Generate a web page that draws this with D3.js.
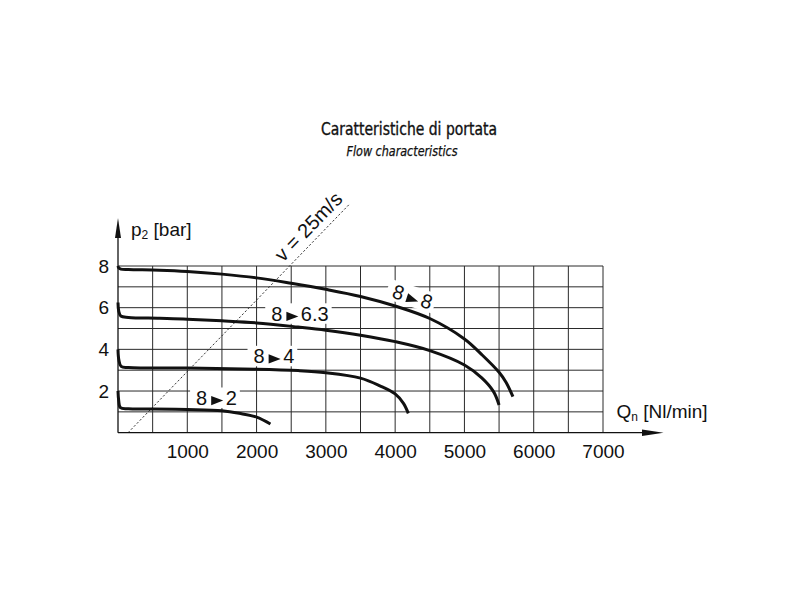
<!DOCTYPE html>
<html>
<head>
<meta charset="utf-8">
<title>Caratteristiche di portata</title>
<script src="https://cdn.jsdelivr.net/npm/d3@7"></script>
<style>
	body { margin: 0; background: #fff; }
	svg { display: block; }
	text { font-family: "Liberation Sans", Arial, Helvetica, sans-serif; fill: #111; }
</style>
</head>
<body>
<div id="chart"></div>
<script>
// flow curves, [Qn Nl/min, p2 bar], inlet 8 bar
var flow8to8 = [[0, 8.0], [12, 7.9], [40, 7.85], [150, 7.83], [600, 7.8], [1000, 7.74], [1500, 7.61], [2000, 7.43], [2500, 7.17], [3000, 6.88], [3500, 6.54], [4000, 6.08], [4500, 5.48], [5000, 4.5], [5250, 3.75], [5500, 2.9], [5600, 2.42], [5700, 1.73]];
var flow8to63 = [[0, 6.25], [10, 5.85], [40, 5.6], [150, 5.53], [600, 5.49], [1000, 5.45], [1500, 5.37], [2000, 5.27], [2600, 5.07], [3000, 4.92], [3500, 4.68], [4000, 4.37], [4500, 3.94], [5000, 3.25], [5250, 2.63], [5420, 1.97], [5500, 1.33]];
var flow8to4 = [[0, 4.0], [12, 3.5], [45, 3.18], [150, 3.13], [1000, 3.1], [2000, 3.05], [2600, 2.98], [3000, 2.88], [3500, 2.62], [3780, 2.25], [4000, 1.86], [4120, 1.41], [4190, 0.93]];
var flow8to2 = [[0, 2.0], [10, 1.55], [35, 1.2], [150, 1.15], [500, 1.14], [1000, 1.11], [1500, 1.05], [1750, 0.93], [2000, 0.75], [2200, 0.42]];

var flowCurves = [flow8to8, flow8to63, flow8to4, flow8to2];
var inletP = ["8", "8", "8", "8"];
var outletP = ["8", "6.3", "4", "2"];

// v = 25m/s reference line, [Qn, p2]
var velocityLine = [[145, 0], [3350, 11.0]];

var xTicks = [1000, 2000, 3000, 4000, 5000, 6000, 7000];
var yTicks = [2, 4, 6, 8];
var xGrid = [500, 1000, 1500, 2000, 2500, 3000, 3500, 4000, 4500, 5000, 5500, 6000, 6500, 7000];
var yGrid = [1, 2, 3, 4, 5, 6, 7, 8];

// where the "8 > x" tags sit (centre of baseline, in Qn / p2), and their tilt
var labelSpots = [
	{ q: 4220, p: 6.2, angle: 18 },
	{ q: 2626, p: 5.37, angle: 0 },
	{ q: 2250, p: 3.33, angle: 0 },
	{ q: 1421, p: 1.33, angle: 0 }
];

var W = 800, H = 600;
var fs = 19, lfs = 20;

var svg = d3.select("#chart").append("svg")
	.attr("width", W)
	.attr("height", H)
	.attr("viewBox", [0, 0, W, H].join(" "));

var x = d3.scaleLinear().domain([0, 7000]).range([118, 603]);
var y = d3.scaleLinear().domain([0, 8]).range([432.7, 266]);

// titles
svg.append("text")
	.attr("x", 409).attr("y", 135)
	.attr("text-anchor", "middle")
	.attr("font-size", 18)
	.attr("textLength", 176)
	.attr("lengthAdjust", "spacingAndGlyphs")
	.attr("stroke", "#111").attr("stroke-width", 0.35)
	.style("font-family", '"Liberation Sans Narrow", "DejaVu Sans Condensed", "Liberation Sans", sans-serif')
	.text("Caratteristiche di portata");

svg.append("text")
	.attr("x", 402).attr("y", 155.5)
	.attr("text-anchor", "middle")
	.attr("font-size", 13.5)
	.attr("font-style", "italic")
	.attr("textLength", 111)
	.attr("lengthAdjust", "spacingAndGlyphs")
	.attr("stroke", "#111").attr("stroke-width", 0.25)
	.style("font-family", '"Liberation Sans Narrow", "DejaVu Sans Condensed", "Liberation Sans", sans-serif')
	.text("Flow characteristics");

// grid
var grid = svg.append("g").attr("stroke", "#2a2a2a").attr("stroke-width", 1);
grid.selectAll("line.v").data(xGrid).enter().append("line")
	.attr("class", "v")
	.attr("x1", function(d) { return x(d); })
	.attr("x2", function(d) { return x(d); })
	.attr("y1", y(0))
	.attr("y2", y(8));
grid.selectAll("line.h").data(yGrid).enter().append("line")
	.attr("class", "h")
	.attr("x1", x(0))
	.attr("x2", x(7000))
	.attr("y1", function(d) { return y(d); })
	.attr("y2", function(d) { return y(d); });

// velocity line
var vx1 = x(velocityLine[0][0]), vy1 = y(velocityLine[0][1]);
var vx2 = x(velocityLine[1][0]), vy2 = y(velocityLine[1][1]);
svg.append("line")
	.attr("x1", vx1).attr("y1", vy1)
	.attr("x2", vx2).attr("y2", vy2)
	.attr("stroke", "#222")
	.attr("stroke-width", 0.9)
	.attr("stroke-dasharray", "2.2,2");

var vlen = Math.sqrt((vx2 - vx1) * (vx2 - vx1) + (vy2 - vy1) * (vy2 - vy1));
var ux = (vx2 - vx1) / vlen, uy = (vy2 - vy1) / vlen;
var vang = Math.atan2(vy2 - vy1, vx2 - vx1) * 180 / Math.PI;
var tpos = 0.72, toff = 7;
svg.append("text")
	.attr("transform", "translate(" + (vx1 + ux * vlen * tpos + uy * toff) + "," + (vy1 + uy * vlen * tpos - ux * toff) + ") rotate(" + vang + ")")
	.attr("font-size", lfs)
	.text("v = 25m/s");

// tags: white box knocks the grid out behind them
var labelLayer = svg.append("g");
labelSpots.forEach(function(spot, i) {
	var g = labelLayer.append("g")
		.attr("transform", "translate(" + x(spot.q) + "," + y(spot.p) + ") rotate(" + spot.angle + ")");
	var box = g.append("rect").attr("fill", "#fff");
	var a = g.append("text").attr("font-size", lfs).text(inletP[i]);
	var wa = a.node().getComputedTextLength();
	var tri = g.append("path").attr("d", "M0,-9L12,-4.4L0,0.2Z").attr("fill", "#111");
	var b = g.append("text").attr("font-size", lfs).text(outletP[i]);
	var wb = b.node().getComputedTextLength();
	var g1 = 4, g2 = 2.5;
	var total = wa + g1 + 12 + g2 + wb;
	var x0 = -total / 2;
	a.attr("x", x0);
	tri.attr("transform", "translate(" + (x0 + wa + g1) + ",0)");
	b.attr("x", x0 + wa + g1 + 12 + g2);
	box.attr("x", x0 - 6).attr("y", -17.5).attr("width", total + 9).attr("height", 20.5);
});

// curves
var line = d3.line()
	.x(function(d) { return x(d[0]); })
	.y(function(d) { return y(d[1]); })
	.curve(d3.curveCatmullRom.alpha(0.5));

svg.selectAll("path.flow").data(flowCurves).enter().append("path")
	.attr("class", "flow")
	.attr("d", line)
	.attr("fill", "none")
	.attr("stroke", "#111")
	.attr("stroke-width", 3)
	.attr("stroke-linecap", "butt");

// axes
var xAxis = d3.axisBottom(x).tickValues(xTicks).tickSize(0).tickPadding(11.5).tickFormat(d3.format("d"));
var gx = svg.append("g").attr("transform", "translate(0," + y(0) + ")").call(xAxis);
gx.select(".domain").remove();
gx.selectAll("text").attr("font-size", fs).attr("fill", "#111").style("font-family", '"Liberation Sans", Arial, sans-serif');

var yAxis = d3.axisLeft(y).tickValues(yTicks).tickSize(0).tickPadding(9).tickFormat(d3.format("d"));
var gy = svg.append("g").attr("transform", "translate(" + x(0) + ",0)").call(yAxis);
gy.select(".domain").remove();
gy.selectAll("text").attr("font-size", fs).attr("fill", "#111").style("font-family", '"Liberation Sans", Arial, sans-serif');

var axes = svg.append("g");
axes.append("line")
	.attr("x1", x(0)).attr("x2", x(7000) + 42)
	.attr("y1", y(0)).attr("y2", y(0))
	.attr("stroke", "#111").attr("stroke-width", 1.3);
axes.append("path")
	.attr("d", "M" + (x(7000) + 60.5) + "," + y(0) + "L" + (x(7000) + 39) + "," + (y(0) - 3.2) + "L" + (x(7000) + 39) + "," + (y(0) + 3.2) + "Z")
	.attr("fill", "#111");
axes.append("line")
	.attr("x1", x(0)).attr("x2", x(0))
	.attr("y1", y(0)).attr("y2", y(8) - 30)
	.attr("stroke", "#111").attr("stroke-width", 1.3);
axes.append("path")
	.attr("d", "M" + x(0) + "," + (y(8) - 48) + "L" + (x(0) - 3) + "," + (y(8) - 28) + "L" + (x(0) + 3) + "," + (y(8) - 28) + "Z")
	.attr("fill", "#111");

// axis titles with subscripts
var py = svg.append("text").attr("x", 131).attr("y", 235.5).attr("font-size", fs);
py.append("tspan").text("p");
py.append("tspan").attr("font-size", 12).attr("dy", 3).text("2");
py.append("tspan").attr("dy", -3).text(" [bar]");

var qx = svg.append("text").attr("x", 616.5).attr("y", 418.3).attr("font-size", fs);
qx.append("tspan").text("Q");
qx.append("tspan").attr("font-size", 12).attr("dy", 3).text("n");
qx.append("tspan").attr("dy", -3).text(" [Nl/min]");
</script>
</body>
</html>
